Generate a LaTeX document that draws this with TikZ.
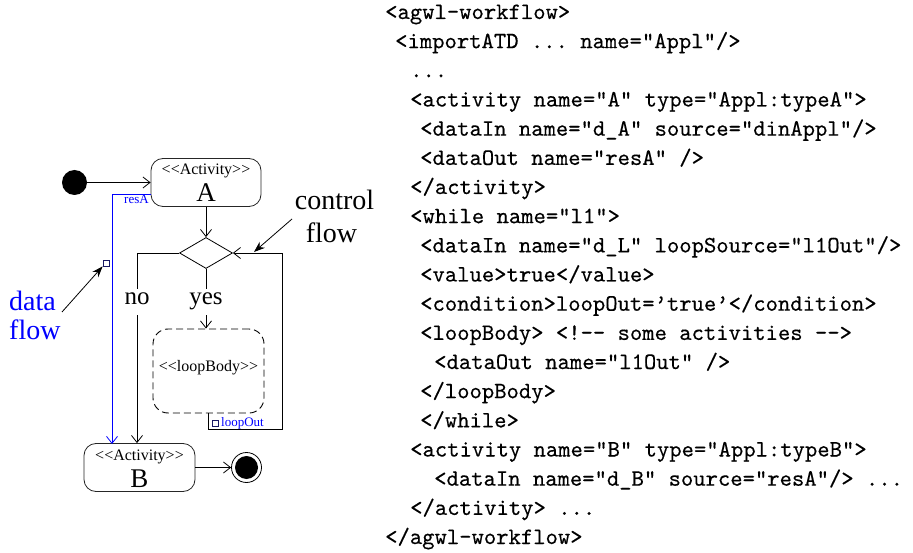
\documentclass[tikz,border=0pt]{standalone}
\usepackage{fontspec}
\newfontfamily\dfont{Liberation Serif}
\newfontfamily\codefont{lmmono10-regular.otf}[FakeBold=0.35,WordSpace={1,0,0},PunctuationSpace=WordSpace]
\usetikzlibrary{arrows.meta,shapes.geometric}
\definecolor{portc}{RGB}{25,25,100}
\begin{document}
\begin{tikzpicture}[x=1pt,y=-1pt,
  ln/.style={line width=0.8pt},
  arr/.style={ln, -{Straight Barb[length=7pt,width=11pt,line width=0.8pt]}},
  ann/.style={line width=0.8pt, -{Stealth[length=11pt,width=8pt]}},
  act/.style={draw=black!85, ln, rounded corners=12pt, minimum width=110pt, minimum height=48pt, inner sep=0},
  stereo/.style={font=\dfont\fontsize{16}{16}\selectfont, inner sep=0},
  big/.style={font=\dfont\fontsize{27}{27}\selectfont, inner sep=0},
  guard/.style={font=\dfont\fontsize{25}{25}\selectfont, inner sep=0, minimum height=26pt, text height=11pt, text depth=5pt},
  small/.style={font=\dfont\fontsize{13}{13}\selectfont, inner sep=0, text=blue},
  label/.style={font=\dfont\fontsize{28}{28}\selectfont, inner sep=0},
  code/.style={font=\codefont\fontsize{23.5}{23.5}\selectfont, inner sep=0, anchor=base west},
  port/.style={draw=portc, line width=0.8pt, minimum size=6pt, inner sep=0},
]
\useasboundingbox (0,0) rectangle (913,553);

% ---------- diagram nodes ----------
\node[circle, fill=black, minimum size=25pt, inner sep=0] (start) at (74.5,182.5) {};
\node[act] (A) at (206,182.5) {};
\node[stereo, anchor=base] (Aster) at (206,175) {<\kern0pt<Activity>\kern0pt>};
\node[big, anchor=base] (Aname) at (206,202) {A};
\node[diamond, draw, ln, minimum width=53pt, minimum height=31pt, inner sep=0] (dec) at (206,253) {};
\node[guard] (no) at (137,302) {no};
\node[guard] (yes) at (206,302) {yes};
\node[draw=black, line width=0.9pt, dash pattern=on 7pt off 4pt, rounded corners=15pt, minimum width=111pt, minimum height=84pt, inner sep=0] (loop) at (208.5,371) {};
\node[stereo, anchor=base] (loopt) at (208.5,371) {<\kern0pt<loopBody>\kern0pt>};
\node[port] (pOut) at (215.5,423) {};
\node[small, anchor=base west] (loopOut) at (221,426) {loopOut};
\node[act, minimum width=111pt] (B) at (139.5,467.5) {};
\node[stereo, anchor=base] (Bster) at (139.5,460) {<\kern0pt<Activity>\kern0pt>};
\node[big, anchor=base] (Bname) at (139.5,487) {B};
\node[circle, draw, ln, minimum size=30pt, inner sep=0] (end) at (246.5,467.5) {};
\fill (end.center) circle (11.5);

\node[small, anchor=base west] (resA) at (124,204) {resA};
\node[port] (pA) at (106,263) {};

\node[label, text=blue, anchor=base west] (df1) at (9,311) {data};
\node[label, text=blue, anchor=base west] (df2) at (9,339) {flow};
\node[label, anchor=base] (cf1) at (334.5,210) {control};
\node[label, anchor=base] (cf2) at (331.5,243) {flow};

\coordinate (rc) at (282,429);
\coordinate (dfs) at ([yshift=-12pt]A.west);
\coordinate (dfe) at (112,444);
\coordinate (dfa) at (62,312);
\coordinate (cfs) at (292,219);
\coordinate (cfe) at (254,252);

% ---------- connectors ----------
\draw[arr] (start) -- (A.west);
\draw[arr] (A) -- (dec);
\draw[ln] (dec.west) -| (no.north);
\draw[arr] (no.south) -- (no.south |- B.north);
\draw[ln] (dec.south) -- (yes.north);
\draw[arr] (yes.south) -- (yes.south |- loop.north);
\draw[arr] (loop.south) |- (rc) |- (dec.east);
\draw[arr] (B) -- (end);
\draw[arr, blue] (dfs) -| (dfe);
\draw[ann] (dfa) -- (pA.south west);
\draw[ann] (cfs) -- (cfe);

% ---------- code ----------
\node[code] (c1)  at (385,19)    {<agwl-workflow>};
\node[code] (c2)  at (395,48.2)  {<importATD ... name="Appl"/>};
\node[code] (c3)  at (410,77.3)  {...};
\node[code] (c4)  at (410,106.5) {<activity name="A" type="Appl:typeA">};
\node[code] (c5)  at (420,135.7) {<dataIn name="d\_A" source="dinAppl"/>};
\node[code] (c6)  at (420,164.9) {<dataOut name="resA" />};
\node[code] (c7)  at (410,194)   {</activity>};
\node[code] (c8)  at (410,223.2) {<while name="l1">};
\node[code] (c9)  at (420,252.4) {<dataIn name="d\_L" loopSource="l1Out"/>};
\node[code] (c10) at (420,281.5) {<value>true</value>};
\node[code] (c11) at (420,310.7) {<condition>loopOut=’true’</condition>};
\node[code] (c12) at (420,339.9) {<loopBody> <!-\kern0pt- some activities -\kern0pt->};
\node[code] (c13) at (434,369)   {<dataOut name="l1Out" />};
\node[code] (c14) at (420,398.2) {</loopBody>};
\node[code] (c15) at (420,427.4) {</while>};
\node[code] (c16) at (410,456.5) {<activity name="B" type="Appl:typeB">};
\node[code] (c17) at (434,485.7) {<dataIn name="d\_B" source="resA"/> ...};
\node[code] (c18) at (410,514.9) {</activity> ...};
\node[code] (c19) at (385,544)   {</agwl-workflow>};
\end{tikzpicture}
\end{document}
